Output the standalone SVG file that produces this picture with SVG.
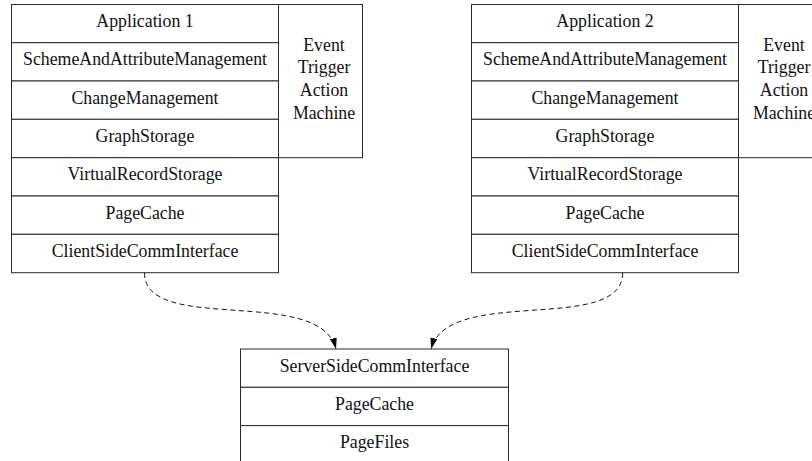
<svg xmlns="http://www.w3.org/2000/svg" width="812" height="461" viewBox="0 0 812 461">
  <style>
    .box { fill: #ffffff; stroke: #2a2a2a; stroke-width: 1; }
    .lbl { font-family: "Liberation Serif", "Times New Roman", serif; font-size: 17.8px; fill: #111111; text-anchor: middle; }
    .link { fill: none; stroke: #111111; stroke-width: 1; stroke-dasharray: 5 3.5; }
  </style>
  <defs>
    <marker id="arrow" markerUnits="userSpaceOnUse" markerWidth="12" markerHeight="8" refX="11" refY="3.5" orient="auto">
      <path d="M0,0 L11,3.5 L0,7 z" fill="#000000" stroke="none"/>
    </marker>
  </defs>

  <rect width="812" height="461" fill="#ffffff"/>

  <!-- Client 1 layer stack -->
  <g id="app1">
    <rect class="box" x="11.5" y="4.5" width="267" height="38.2"/>
    <rect class="box" x="11.5" y="42.7" width="267" height="38.3"/>
    <rect class="box" x="11.5" y="81" width="267" height="38.3"/>
    <rect class="box" x="11.5" y="119.3" width="267" height="38.4"/>
    <rect class="box" x="11.5" y="157.7" width="267" height="38.3"/>
    <rect class="box" x="11.5" y="196" width="267" height="38.3"/>
    <rect class="box" x="11.5" y="234.3" width="267" height="38.4"/>
    <text class="lbl" x="145" y="27">Application 1</text>
    <text class="lbl" x="145" y="65.4">SchemeAndAttributeManagement</text>
    <text class="lbl" x="145" y="103.7">ChangeManagement</text>
    <text class="lbl" x="145" y="142">GraphStorage</text>
    <text class="lbl" x="145" y="180.4">VirtualRecordStorage</text>
    <text class="lbl" x="145" y="218.7">PageCache</text>
    <text class="lbl" x="145" y="257">ClientSideCommInterface</text>
  </g>

  <g id="etam1">
    <rect class="box" x="278.5" y="4.5" width="84" height="153.2"/>
    <text class="lbl" x="324" y="50.5">Event</text>
    <text class="lbl" x="324" y="73.2">Trigger</text>
    <text class="lbl" x="324" y="95.9">Action</text>
    <text class="lbl" x="324" y="118.5">Machine</text>
  </g>

  <!-- Client 2 layer stack -->
  <g id="app2">
    <rect class="box" x="471.5" y="4.5" width="267" height="38.2"/>
    <rect class="box" x="471.5" y="42.7" width="267" height="38.3"/>
    <rect class="box" x="471.5" y="81" width="267" height="38.3"/>
    <rect class="box" x="471.5" y="119.3" width="267" height="38.4"/>
    <rect class="box" x="471.5" y="157.7" width="267" height="38.3"/>
    <rect class="box" x="471.5" y="196" width="267" height="38.3"/>
    <rect class="box" x="471.5" y="234.3" width="267" height="38.4"/>
    <text class="lbl" x="605" y="27">Application 2</text>
    <text class="lbl" x="605" y="65.4">SchemeAndAttributeManagement</text>
    <text class="lbl" x="605" y="103.7">ChangeManagement</text>
    <text class="lbl" x="605" y="142">GraphStorage</text>
    <text class="lbl" x="605" y="180.4">VirtualRecordStorage</text>
    <text class="lbl" x="605" y="218.7">PageCache</text>
    <text class="lbl" x="605" y="257">ClientSideCommInterface</text>
  </g>

  <g id="etam2">
    <rect class="box" x="738.5" y="4.5" width="84" height="153.2"/>
    <text class="lbl" x="784" y="50.5">Event</text>
    <text class="lbl" x="784" y="73.2">Trigger</text>
    <text class="lbl" x="784" y="95.9">Action</text>
    <text class="lbl" x="784" y="118.5">Machine</text>
  </g>

  <!-- Server layer stack -->
  <g id="server">
    <rect class="box" x="240.5" y="349" width="268" height="38.3"/>
    <rect class="box" x="240.5" y="387.3" width="268" height="38.3"/>
    <rect class="box" x="240.5" y="425.6" width="268" height="45"/>
    <text class="lbl" x="374.5" y="371.7">ServerSideCommInterface</text>
    <text class="lbl" x="374.5" y="410">PageCache</text>
    <text class="lbl" x="374.5" y="448.3">PageFiles</text>
  </g>

  <!-- Client-to-server links -->
  <g id="links">
    <path class="link" d="M144.5,273 C145,335 320,285 336,349" marker-end="url(#arrow)"/>
    <path class="link" d="M622.7,273 C622.2,335 447.2,285 431.2,349" marker-end="url(#arrow)"/>
  </g>
</svg>
